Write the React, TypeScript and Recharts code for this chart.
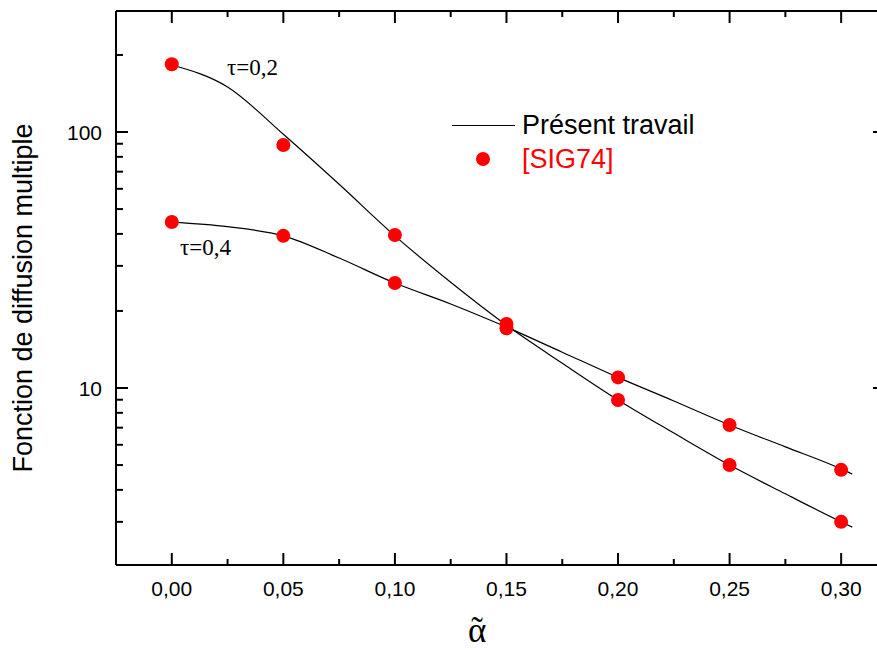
import { ComposedChart, Line, Scatter, XAxis, YAxis } from "recharts";

// SIG74 reference values, one array per tau
const alphaPts = [0, 0.05, 0.1, 0.15, 0.2, 0.25, 0.3];
const sigTau02 = [184, 89, 39.6, 17.8, 8.98, 5.0, 3.0];
const sigTau04 = [44.5, 39.3, 25.7, 17.1, 11.0, 7.17, 4.79];

// present-work curves
const alphaCurve = [0, 0.025, 0.05, 0.075, 0.1, 0.125, 0.15, 0.175, 0.2, 0.225, 0.25, 0.275, 0.3, 0.305];
const curveTau02 = [182.7, 150, 98, 62.5, 39.3, 25.9, 17.6, 12.5, 8.98, 6.67, 5.0, 3.86, 3.0, 2.86];
const curveTau04 = [44.5, 42.7, 39.3, 32.2, 25.7, 21.3, 17.3, 13.8, 11.0, 8.9, 7.17, 5.89, 4.83, 4.61];

const xTicks = [0, 0.025, 0.05, 0.075, 0.1, 0.125, 0.15, 0.175, 0.2, 0.225, 0.25, 0.275, 0.3];
const yTicks = [3, 4, 5, 6, 7, 8, 9, 10, 20, 30, 40, 50, 60, 70, 80, 90, 100, 200];
const yMajor = [10, 100];

const X_DOMAIN = [-0.025, 0.3192];
const Y_DOMAIN = [2.035, 297];

// frame of the plot area, in px
const CHART_W = 886;
const CHART_H = 650;
const LEFT = 116;
const RIGHT = 885;
const TOP = 11;
const BOTTOM = 565;

const SANS = "'Liberation Sans', Arial, sans-serif";
const SERIF = "'Liberation Serif', 'Times New Roman', serif";

const zip = (xs: number[], ys: number[]) => xs.map((x, i) => ({ x, y: ys[i] }));

const isMajorX = (v: number) => Math.abs(v / 0.05 - Math.round(v / 0.05)) < 1e-6;

// inward ticks, drawn from the frame edge
function makeXTick(side: "bottom" | "top") {
  return (props: any) => {
    const { x, payload } = props;
    const v = payload.value as number;
    const len = isMajorX(v) ? 12 : 6;
    const y0 = side === "bottom" ? BOTTOM : TOP;
    const dir = side === "bottom" ? -1 : 1;
    return (
      <g>
        <line x1={x} y1={y0} x2={x} y2={y0 + dir * len} stroke="#000" strokeWidth={2} />
        {side === "bottom" && isMajorX(v) && (
          <text x={x} y={BOTTOM + 31} textAnchor="middle" fontFamily={SANS} fontSize={21} fill="#000">
            {v.toFixed(2).replace(".", ",")}
          </text>
        )}
      </g>
    );
  };
}

function makeYTick(side: "left" | "right") {
  return (props: any) => {
    const { y, payload } = props;
    const v = payload.value as number;
    const major = yMajor.includes(v);
    const len = major ? 12 : 7;
    const x0 = side === "left" ? LEFT : RIGHT;
    const dir = side === "left" ? 1 : -1;
    return (
      <g>
        <line x1={x0} y1={y} x2={x0 + dir * len} y2={y} stroke="#000" strokeWidth={2} />
        {side === "left" && major && (
          <text x={LEFT - 14} y={y + 7.5} textAnchor="end" fontFamily={SANS} fontSize={21} fill="#000">
            {v}
          </text>
        )}
      </g>
    );
  };
}

const axisLine = { stroke: "#000", strokeWidth: 2 };

export default function App() {
  const dot = (p: any) => <circle cx={p.cx} cy={p.cy} r={7} fill="#ff0000" />;
  return (
    <div
      style={{
        position: "absolute",
        left: 0,
        top: 0,
        width: 877,
        height: 650,
        overflow: "hidden",
        background: "#fff",
      }}
    >
      <ComposedChart
        width={CHART_W}
        height={CHART_H}
        margin={{ top: TOP - 1, right: CHART_W - RIGHT, bottom: 0, left: 0 }}
      >
        <XAxis
          xAxisId="b"
          dataKey="x"
          type="number"
          orientation="bottom"
          domain={X_DOMAIN}
          allowDataOverflow
          ticks={xTicks}
          interval={0}
          height={CHART_H - BOTTOM}
          tickLine={false}
          axisLine={axisLine}
          tick={makeXTick("bottom")}
        />
        <XAxis
          xAxisId="t"
          dataKey="x"
          type="number"
          orientation="top"
          domain={X_DOMAIN}
          allowDataOverflow
          ticks={xTicks}
          interval={0}
          height={1}
          tickLine={false}
          axisLine={axisLine}
          tick={makeXTick("top")}
        />
        <YAxis
          yAxisId="l"
          dataKey="y"
          type="number"
          scale="log"
          orientation="left"
          domain={Y_DOMAIN}
          allowDataOverflow
          ticks={yTicks}
          interval={0}
          width={LEFT}
          tickLine={false}
          axisLine={axisLine}
          tick={makeYTick("left")}
        />
        <YAxis
          yAxisId="r"
          dataKey="y"
          type="number"
          scale="log"
          orientation="right"
          domain={Y_DOMAIN}
          allowDataOverflow
          ticks={yTicks}
          interval={0}
          width={1}
          tickLine={false}
          axisLine={axisLine}
          tick={makeYTick("right")}
        />
        <Line
          xAxisId="b"
          yAxisId="l"
          data={zip(alphaCurve, curveTau02)}
          dataKey="y"
          type="monotone"
          stroke="#000"
          strokeWidth={1.2}
          dot={false}
          isAnimationActive={false}
        />
        <Line
          xAxisId="b"
          yAxisId="l"
          data={zip(alphaCurve, curveTau04)}
          dataKey="y"
          type="monotone"
          stroke="#000"
          strokeWidth={1.2}
          dot={false}
          isAnimationActive={false}
        />
        {/* the mirrored frame axes need a series bound to them */}
        <Line
          xAxisId="t"
          yAxisId="r"
          data={zip(alphaCurve, curveTau04)}
          dataKey="y"
          stroke="none"
          dot={false}
          isAnimationActive={false}
        />
        <Scatter xAxisId="b" yAxisId="l" data={zip(alphaPts, sigTau02)} dataKey="y" shape={dot} isAnimationActive={false} />
        <Scatter xAxisId="b" yAxisId="l" data={zip(alphaPts, sigTau04)} dataKey="y" shape={dot} isAnimationActive={false} />
      </ComposedChart>

      <svg
        width={877}
        height={650}
        style={{ position: "absolute", left: 0, top: 0, pointerEvents: "none" }}
      >
        {/* curve labels */}
        <text x={227} y={75} fontFamily={SERIF} fontSize={23} fill="#000">τ=0,2</text>
        <text x={180} y={255} fontFamily={SERIF} fontSize={23} fill="#000">τ=0,4</text>

        {/* legend */}
        <line x1={452} y1={125.5} x2={515} y2={125.5} stroke="#000" strokeWidth={1.2} />
        <text x={522} y={134} fontFamily={SANS} fontSize={27} fill="#000">Présent travail</text>
        <circle cx={483} cy={159} r={7} fill="#ff0000" />
        <text x={522} y={168} fontFamily={SANS} fontSize={27} fill="#ff0000">[SIG74]</text>

        {/* axis titles */}
        <text
          x={32}
          y={298}
          transform="rotate(-90, 32, 298)"
          textAnchor="middle"
          fontFamily={SANS}
          fontSize={27}
          fill="#000"
        >
          Fonction de diffusion multiple
        </text>
        {/* alpha with the tilde set over it */}
        <text x={468} y={642} fontFamily={SERIF} fontSize={35} fill="#000">
          α<tspan dx={-15}>˜</tspan>
        </text>
      </svg>
    </div>
  );
}
